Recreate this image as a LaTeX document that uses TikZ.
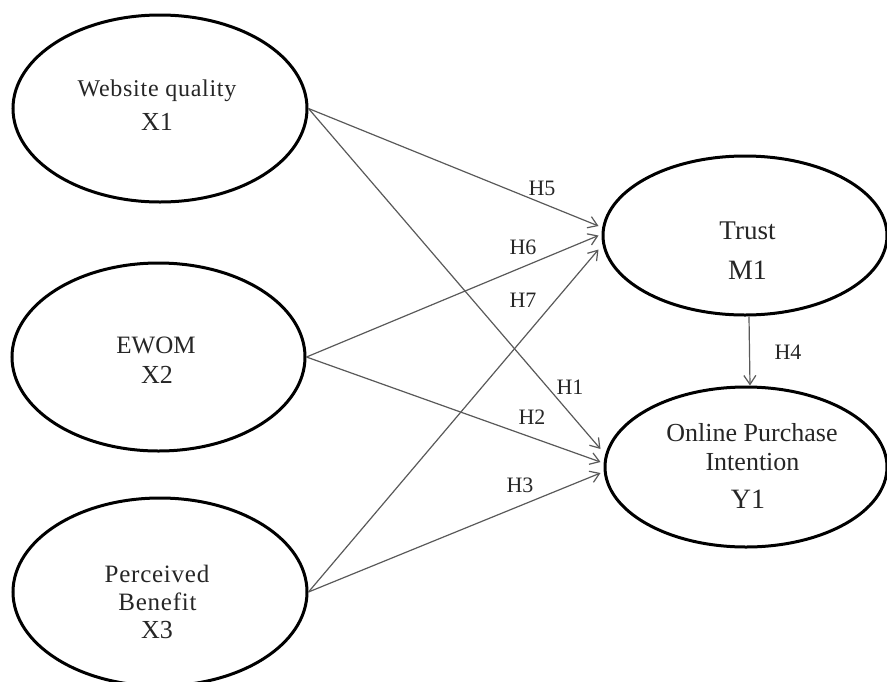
\documentclass[tikz,border=0pt]{standalone}
\usepackage{fontspec}
\setmainfont{Liberation Serif}
\newfontfamily\spacedserif[LetterSpace=3]{Liberation Serif}
\usetikzlibrary{shapes.geometric,arrows.meta}
\begin{document}
\begin{tikzpicture}[x=1pt,y=-1pt,
  latent/.style={draw=black,line width=3pt,ellipse,inner sep=0pt,fill=white},
  txt/.style={anchor=base,inner sep=0pt,text=black!85},
  lbl/.style={inner sep=0pt,text=black!85,font=\fontsize{22}{24}\selectfont},
  path/.style={draw=black!65,line width=1.2pt,-{Straight Barb[length=9pt,width=12pt,line width=1.2pt]}}]
\useasboundingbox (0,0) rectangle (887,681);
\clip (0,0) rectangle (887,681);
% latent variables
\node[latent,minimum width=294pt,minimum height=187pt] (wq) at (160,108.5) {};
\node[latent,minimum width=293pt,minimum height=188pt] (ew) at (158.5,357) {};
\node[latent,minimum width=294pt,minimum height=188pt] (pb) at (160,592) {};
\node[latent,minimum width=284pt,minimum height=159pt] (tr) at (745,235.5) {};
\node[latent,minimum width=282pt,minimum height=160pt] (oi) at (746,467) {};
% texts
\node[txt,font=\spacedserif\fontsize{24}{26}\selectfont] (wqa) at (157,96) {Website quality};
\node[txt,font=\fontsize{26}{28}\selectfont] (wqb) at (157,130) {X1};
\node[txt,font=\fontsize{25}{27}\selectfont] (ewa) at (156,353) {EWOM};
\node[txt,font=\fontsize{26}{28}\selectfont] (ewb) at (157,383) {X2};
\node[txt,font=\spacedserif\fontsize{25}{27}\selectfont] (pba) at (157,582) {Perceived};
\node[txt,font=\spacedserif\fontsize{25}{27}\selectfont] (pbb) at (157.5,610) {Benefit};
\node[txt,font=\fontsize{26}{28}\selectfont] (pbc) at (157,638) {X3};
\node[txt,font=\fontsize{27}{29}\selectfont] (tra) at (747.5,239.5) {Trust};
\node[txt,font=\fontsize{28}{30}\selectfont] (trb) at (747.5,279.5) {M1};
\node[txt,font=\fontsize{26}{28}\selectfont] (oia) at (752,441.5) {Online Purchase};
\node[txt,font=\fontsize{26}{28}\selectfont] (oib) at (752.5,470.5) {Intention};
\node[txt,font=\fontsize{28}{30}\selectfont] (oic) at (748,508.5) {Y1};
% paths
\draw[path] (wq.east) -- ([yshift=9.5pt,xshift=-3pt]tr.west);
\draw[path] (ew.east) -- ([xshift=-3pt]tr.west);
\draw[path] (pb.east) -- ([yshift=-14pt,xshift=-3pt]tr.west);
\draw[path] (wq.east) -- ([yshift=18pt,xshift=-3pt]oi.west);
\draw[path] (ew.east) -- ([yshift=5pt,xshift=-3pt]oi.west);
\draw[path] (pb.east) -- ([yshift=-6pt,xshift=-3pt]oi.west);
\draw[path] ([xshift=4pt]tr.south) -- ([xshift=4pt]oi.north);
% labels
\node[lbl] (h5) at (542,188) {H5};
\node[lbl] (h6) at (523,247) {H6};
\node[lbl] (h7) at (523,300) {H7};
\node[lbl] (h1) at (570,387) {H1};
\node[lbl] (h2) at (532,417) {H2};
\node[lbl] (h3) at (520,485) {H3};
\node[lbl] (h4) at (788,352) {H4};
\end{tikzpicture}
\end{document}
